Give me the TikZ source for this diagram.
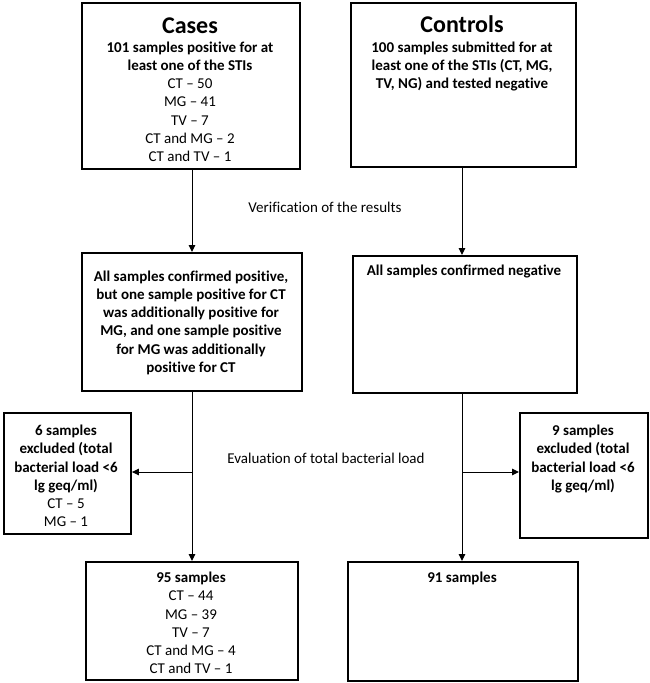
\documentclass[tikz,border=0pt]{standalone}
\usepackage{fontspec}
\setmainfont{Carlito}[Ligatures=NoCommon]
\usetikzlibrary{arrows.meta}
\begin{document}
\begin{tikzpicture}[x=1pt,y=-1pt,
  box/.style={draw,line width=1.9pt,inner sep=0pt,anchor=north west},
  txt/.style={align=center,font=\fontsize{15}{18.2}\selectfont,anchor=north,inner sep=0pt},
  btxt/.style={txt,font=\fontsize{15}{18.2}\selectfont\bfseries},
  ttl/.style={font=\fontsize{24}{26}\selectfont\bfseries,inner sep=0pt},
  lbl/.style={font=\fontsize{15}{16}\selectfont,inner sep=0pt},
  arr/.style={-{Triangle[length=7pt,width=6.5pt]},line width=1pt}]
\useasboundingbox (0,0) rectangle (649,683);

% boxes
\node[box,minimum width=218pt,minimum height=166pt] (cases) at (81,2) {};
\node[box,minimum width=225pt,minimum height=164pt] (ctrl) at (350,2) {};
\node[box,minimum width=220pt,minimum height=138pt] (conf) at (81,252) {};
\node[box,minimum width=224pt,minimum height=137pt] (neg) at (352,255) {};
\node[box,minimum width=127pt,minimum height=121pt] (exl) at (3,412) {};
\node[box,minimum width=128pt,minimum height=125pt] (exr) at (519,412) {};
\node[box,minimum width=212pt,minimum height=118pt] (fin) at (85,561) {};
\node[box,minimum width=230pt,minimum height=119pt] (fir) at (347,561) {};

% texts
\node[ttl] (casest) at (190,25.5) {Cases};
\node[txt] (casesb) at (190,41.5) {\textbf{101 samples positive for at}\\\textbf{least one of the STIs}\\CT – 50\\MG – 41\\TV – 7\\CT and MG – 2\\CT and TV – 1};
\node[ttl] (ctrlt) at (462,24.5) {Controls};
\node[btxt] (ctrlb) at (462,41.5) {100 samples submitted for at\\least one of the STIs (CT, MG,\\TV, NG) and tested negative};
\node[btxt] (confb) at (191,270.5) {All samples confirmed positive,\\but one sample positive for CT\\was additionally positive for\\MG, and one sample positive\\for MG was additionally\\positive for CT};
\node[btxt] (negb) at (464,265) {All samples confirmed negative};
\node[txt] (exlb) at (66,425) {\textbf{6 samples}\\\textbf{excluded (total}\\\textbf{bacterial load <6}\\\textbf{lg geq/ml)}\\CT – 5\\MG – 1};
\node[btxt] (exrb) at (583,425) {9 samples\\excluded (total\\bacterial load <6\\lg geq/ml)};
\node[txt] (finb) at (191,572) {\textbf{95 samples}\\CT – 44\\MG – 39\\TV – 7\\CT and MG – 4\\CT and TV – 1};
\node[btxt] (firb) at (462,572) {91 samples};

\node[lbl] (ver) at (325,207) {Verification of the results};
\node[lbl] (eva) at (326,458) {Evaluation of total bacterial load};

% connectors
\coordinate (c1) at (192,0);
\coordinate (c2) at (462,0);
\draw[arr] (cases.south -| c1) -- (conf.north -| c1);
\draw[arr] (ctrl.south -| c2) -- (neg.north -| c2);
\draw[arr] (conf.south -| c1) -- (fin.north -| c1);
\draw[arr] (neg.south -| c2) -- (fir.north -| c2);
\coordinate (bl) at (192,472);
\coordinate (br) at (462,472);
\draw[arr] (bl) -- (bl -| exl.east);
\draw[arr] (br) -- (br -| exr.west);
\end{tikzpicture}
\end{document}
